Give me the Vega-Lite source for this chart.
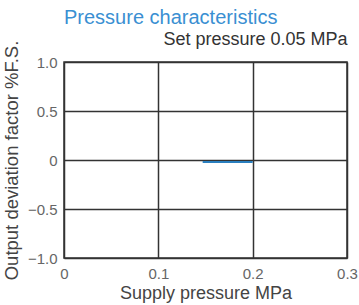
{
  "$schema": "https://vega.github.io/schema/vega-lite/v6.json",
  "width": 283,
  "height": 196,
  "autosize": "none",
  "padding": {"left": 64, "top": 62, "right": 12, "bottom": 47},
  "background": "white",
  "title": {
    "text": "Pressure characteristics",
    "anchor": "start",
    "frame": "group",
    "color": "#3a8fd2",
    "fontSize": 20,
    "fontWeight": "normal",
    "font": "Liberation Sans",
    "offset": 2
  },
  "config": {
    "view": {"stroke": "#333333", "strokeWidth": 1.5},
    "axis": {
      "labelFont": "Liberation Sans",
      "titleFont": "Liberation Sans",
      "labelColor": "#666666",
      "titleColor": "#444444",
      "titleFontWeight": "normal",
      "labelFontSize": 15,
      "titleFontSize": 18,
      "gridColor": "#333333",
      "gridWidth": 1.5,
      "gridOpacity": 1,
      "domain": false,
      "ticks": false
    }
  },
  "data": {
    "values": [
      {"p": 0.147, "dev": -0.02},
      {"p": 0.175, "dev": -0.02},
      {"p": 0.2, "dev": -0.02}
    ]
  },
  "layer": [
    {
      "mark": {"type": "line", "color": "#2a7fbf", "strokeWidth": 2},
      "encoding": {
        "x": {
          "field": "p",
          "type": "quantitative",
          "scale": {"domain": [0, 0.3], "nice": false},
          "axis": {
            "values": [0, 0.1, 0.2, 0.3],
            "format": "~g",
            "labelFlush": false,
            "labelPadding": 8,
            "title": "Supply pressure MPa",
            "titlePadding": 3
          }
        },
        "y": {
          "field": "dev",
          "type": "quantitative",
          "scale": {"domain": [-1, 1], "nice": false},
          "axis": {
            "values": [-1, -0.5, 0, 0.5, 1],
            "labelExpr": "datum.value == 0 ? '0' : format(datum.value, '.1f')",
            "labelPadding": 7,
            "title": "Output deviation factor %F.S.",
            "titleFontSize": 18.5,
            "titlePadding": 6
          }
        }
      }
    },
    {
      "mark": {"type": "point", "opacity": 0},
      "encoding": {
        "x": {
          "field": "p",
          "type": "quantitative",
          "axis": {
            "orient": "top",
            "labels": false,
            "grid": false,
            "title": "Set pressure 0.05 MPa",
            "titleAnchor": "end",
            "titleColor": "#333333",
            "titleFontSize": 18,
            "titlePadding": 14
          }
        }
      }
    }
  ],
  "resolve": {"axis": {"x": "independent"}}
}
